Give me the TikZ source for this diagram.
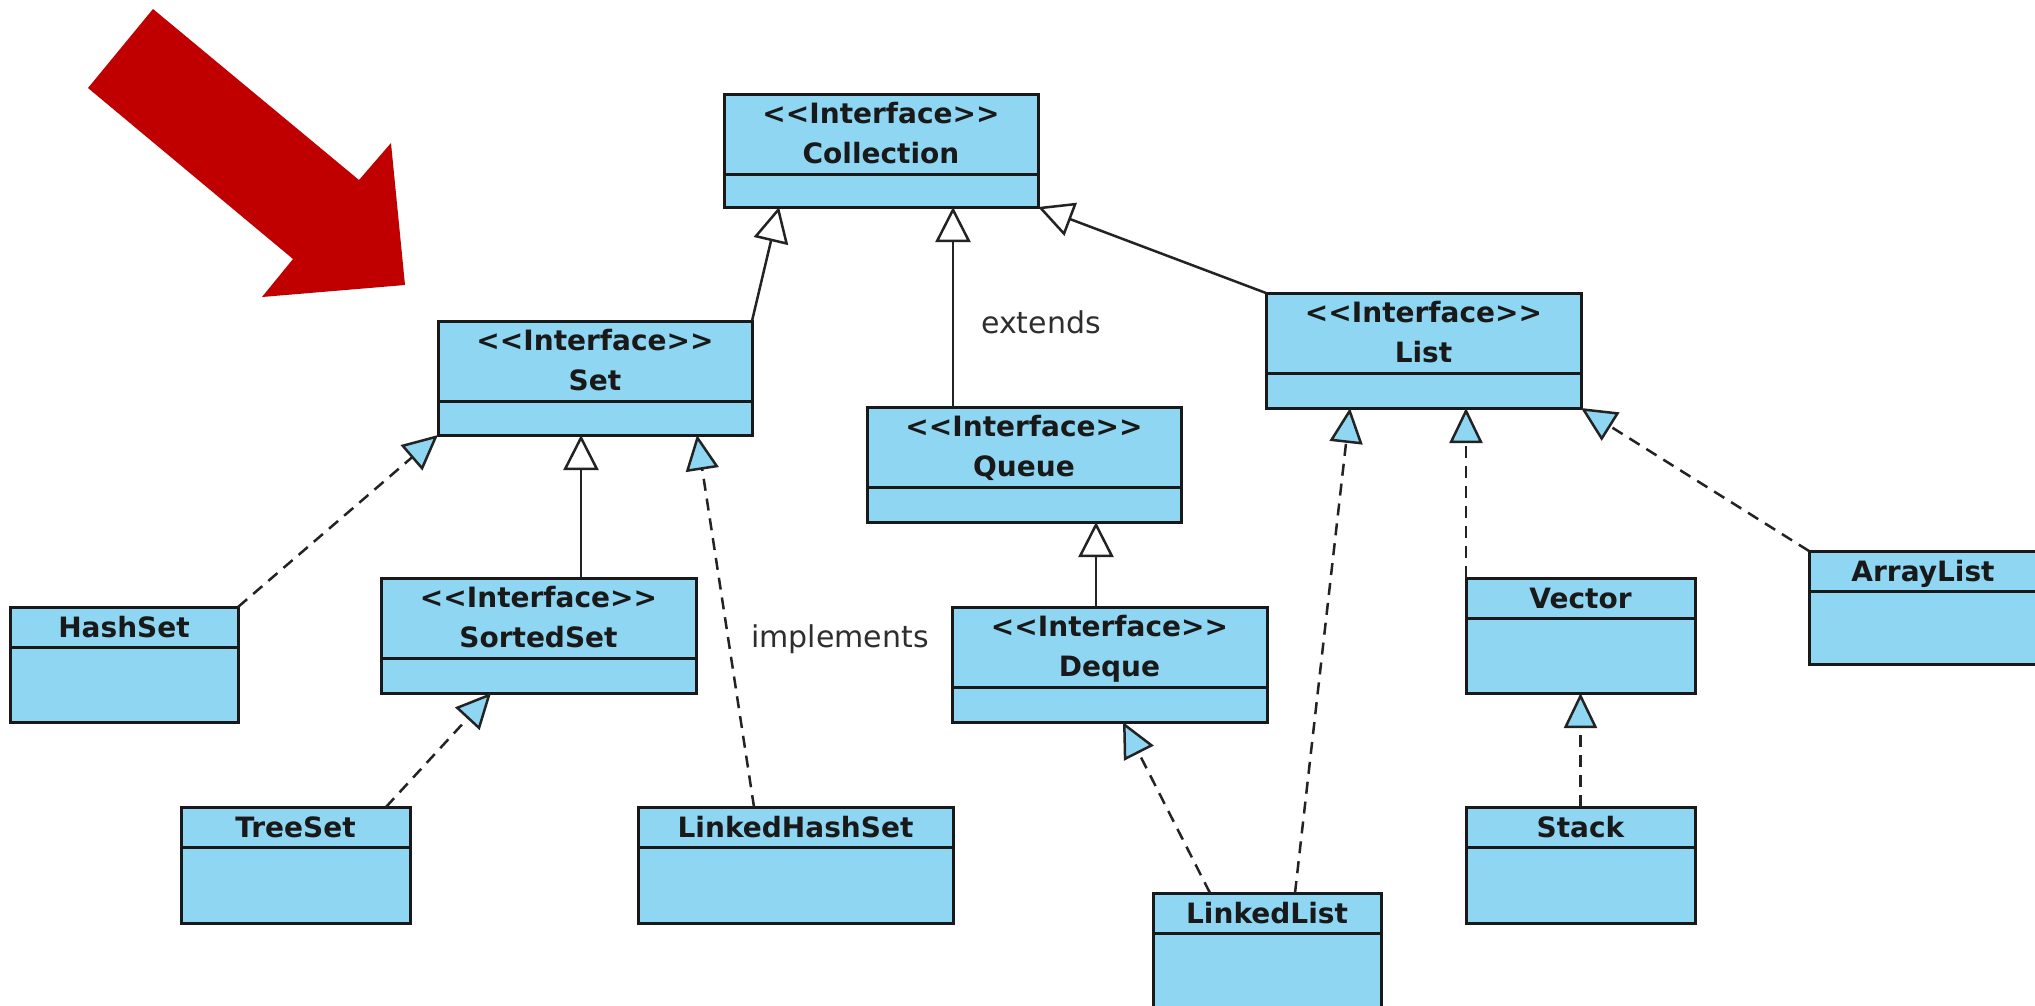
\documentclass[tikz,border=0pt]{standalone}
\usepackage{fontspec}
\newfontfamily\umlfont{DejaVu Sans}
\usetikzlibrary{arrows.meta}
\definecolor{umlblue}{RGB}{143,214,242}
\definecolor{umlline}{RGB}{25,25,25}
\definecolor{conn}{RGB}{35,35,35}
\definecolor{bigred}{RGB}{192,0,0}
\tikzset{
  box/.style={draw=umlline, fill=umlblue, line width=3pt, inner sep=0pt, outer sep=0pt, anchor=north west},
  divline/.style={draw=umlline, line width=3pt},
  cname/.style={font=\umlfont\bfseries\fontsize{28}{30}\selectfont, text=black!90, inner sep=0pt, anchor=base},
  lbl/.style={font=\umlfont\fontsize{30}{32}\selectfont, text=black!82, inner sep=0pt, anchor=base west},
  ext/.style={draw=conn, line width=2.5pt, -{Triangle[length=35pt,width=35pt,fill=white]}},
  impl/.style={draw=conn, line width=2.5pt, dash pattern=on 12pt off 8pt, -{Triangle[length=35pt,width=33pt,fill=umlblue]}},
}
\newcommand\classbox[6]{%
  \node[box, minimum width=#4pt, minimum height=#5pt] (#1) at (#2,#3) {};
  \draw[divline] ([yshift=-40pt]#1.north west) -- ([yshift=-40pt]#1.north east);
  \node[cname] (#1-name) at ([yshift=-30pt]#1.north) {#6};
}
\newcommand\ifacebox[6]{%
  \node[box, minimum width=#4pt, minimum height=#5pt] (#1) at (#2,#3) {};
  \draw[divline] ([yshift=-80pt]#1.north west) -- ([yshift=-80pt]#1.north east);
  \node[cname] (#1-st) at ([yshift=-29pt]#1.north) {<<Interface>>};
  \node[cname] (#1-name) at ([yshift=-69pt]#1.north) {#6};
}
\begin{document}
\begin{tikzpicture}[x=1pt, y=-1pt]
  \fill[white] (0,0) rectangle (2035,1005);
  \useasboundingbox (0,0) rectangle (2035,1005);

  % red arrow
  \fill[bigred] (153,9) -- (359,180) -- (391,143) -- (405,285) -- (262,297) -- (293,259) -- (88,88) -- cycle;

  % boxes
  \ifacebox{coll}{724}{94}{314}{113}{Collection}
  \ifacebox{set}{438}{321}{314}{114}{Set}
  \ifacebox{queue}{867}{407}{314}{115}{Queue}
  \ifacebox{list}{1266}{293}{315}{115}{List}
  \ifacebox{sorted}{381}{578}{315}{115}{SortedSet}
  \ifacebox{deque}{952}{607}{315}{115}{Deque}
  \classbox{hashset}{10}{607}{228}{115}{HashSet}
  \classbox{treeset}{181}{807}{229}{116}{TreeSet}
  \classbox{lhs}{638}{807}{315}{116}{LinkedHashSet}
  \classbox{linkedlist}{1153}{893}{228}{116}{LinkedList}
  \classbox{vector}{1466}{578}{229}{115}{Vector}
  \classbox{stack}{1466}{807}{229}{116}{Stack}
  \classbox{arraylist}{1809}{551}{228}{113}{ArrayList}

  % connectors
  \draw[ext] (set.north east) -- ([xshift=55pt]coll.south west);
  \draw[ext] ([xshift=86pt]queue.north west) -- ([xshift=229pt]coll.south west);
  \draw[ext] (list.north west) -- (coll.south east);
  \draw[impl] (hashset.north east) -- (set.south west);
  \draw[ext] ([xshift=200pt]sorted.north west) -- ([xshift=143pt]set.south west);
  \draw[impl] ([xshift=116pt]lhs.north west) -- ([xshift=259pt]set.south west);
  \draw[impl] ([xshift=205pt]treeset.north west) -- ([xshift=110pt]sorted.south west);
  \draw[ext] ([xshift=144pt]deque.north west) -- ([xshift=229pt]queue.south west);
  \draw[impl] ([xshift=57pt]linkedlist.north west) -- ([xshift=171pt]deque.south west);
  \draw[impl] ([xshift=142pt]linkedlist.north west) -- ([xshift=84pt]list.south west);
  \draw[impl] (vector.north west) -- ([xshift=200pt]list.south west);
  \draw[impl] (arraylist.north west) -- (list.south east);
  \draw[impl] (stack.north) -- (vector.south);

  % labels
  \node[lbl] (extends) at (981,333) {extends};
  \node[lbl] (implements) at (751,647) {implements};
\end{tikzpicture}
\end{document}
